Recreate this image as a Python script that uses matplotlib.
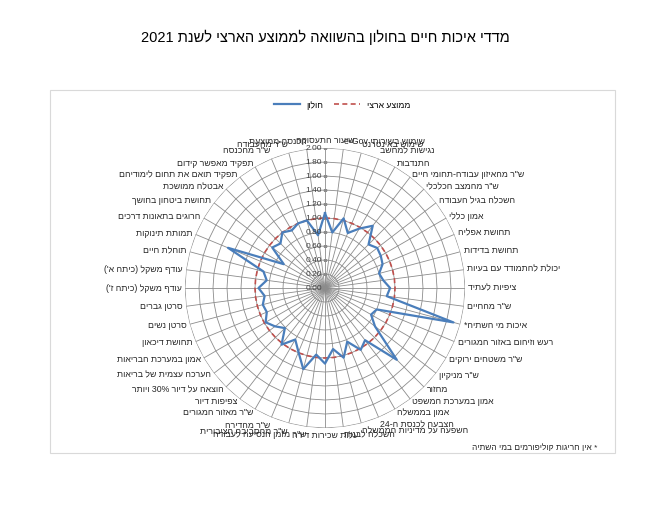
import re
import numpy as np
import matplotlib.pyplot as plt
import matplotlib.transforms as mtransforms
from matplotlib.patches import Rectangle

plt.rcParams['font.family'] = ['Liberation Sans', 'DejaVu Sans']

title = "מדדי איכות חיים בחולון בהשוואה לממוצע הארצי לשנת 2021"
footnote = "* אין חריגות קוליפורמים במי השתיה"

categories = [
    "שיעור התעסוקה", "שימוש בשירותי e-Gov", "שימוש באינטרנט", "נגישות למחשב",
    "התנדבות", 'ש"ר מהאיזון עבודה-תחומי חיים', 'ש"ר מהמצב הכלכלי', "השכלה בגיל העבודה",
    "אמון כללי", "תחושת אפליה", "תחושת בדידות", "יכולת להתמודד עם בעיות",
    "ציפיות לעתיד", 'ש"ר מהחיים', "איכות מי השתיה*", "רעש וזיהום באזור המגורים",
    'ש"ר משטחים ירוקים', 'ש"ר מניקיון', "מחזור", "אמון במערכת המשפט",
    "אמון בממשלה", "הצבעה לכנסת ה-24", "השפעה על מדיניות הממשלה", "השכלה לבנות",
    "עלות שכירות דירה", 'ש"ר מזמן הנסיעה לעבודה', 'ש"ר מהסביבה הציבורית', 'ש"ר מהדירה',
    'ש"ר מאזור המגורים', "צפיפות דיור", "הוצאה על דיור 30% ויותר", "הערכה עצמית של בריאות",
    "אמון במערכת הבריאות", "תחושת דיכאון", "סרטן נשים", "סרטן גברים",
    "עודף משקל (כיתה ז')", "עודף משקל (כיתה א')", "תוחלת חיים", "תמותת תינוקות",
    "הרוגים בתאונות דרכים", "תחושת ביטחון בחושך", "אבטלה ממושכת", "תפקיד תואם את תחום לימודיהם",
    "תפקיד מאפשר קידום", 'ש"ר מהכנסה', 'ש"ר מהעבודה', "הכנסה ממוצעת",
]

holon = [
    1.07, 0.80, 1.03, 0.85, 0.98, 1.12, 0.88, 0.94, 0.92, 0.89, 0.80, 0.84,
    0.93, 0.89, 1.90, 0.80, 0.76, 0.90, 1.45, 0.94, 1.02, 0.83, 1.03, 0.88,
    1.08, 0.96, 1.20, 0.99, 0.85, 1.02, 0.81, 0.90, 0.98, 0.90, 0.92, 0.87,
    0.95, 0.84, 0.91, 1.50, 0.68, 0.95, 0.90, 1.00, 0.95, 1.00, 1.00, 0.76,
]

national = [
    1.00, 1.00, 1.00, 1.00, 1.00, 1.00, 1.00, 1.00, 1.00, 1.00, 1.00, 1.00,
    1.00, 1.00, 1.00, 1.00, 1.00, 1.00, 1.00, 1.00, 1.00, 1.00, 1.00, 1.00,
    1.00, 1.00, 1.00, 1.00, 1.00, 1.00, 1.00, 1.00, 1.00, 1.00, 1.00, 1.00,
    1.00, 1.00, 1.00, 1.00, 1.00, 1.00, 1.00, 1.00, 1.00, 1.00, 1.00, 1.00,
]

rings = [0.0, 0.2, 0.4, 0.6, 0.8, 1.0, 1.2, 1.4, 1.6, 1.8, 2.0]


def rtl(s):
    # matplotlib has no bidi support: reverse, then restore left-to-right runs
    r = s[::-1]
    r = re.sub(r'[A-Za-z0-9%.]+(?:-[A-Za-z0-9%.]+)*', lambda m: m.group(0)[::-1], r)
    return r.translate(str.maketrans('()', ')('))


fig = plt.figure(figsize=(6.5, 5.11), dpi=100)
fig.patches.append(Rectangle((50 / 650, 1 - 453 / 511), 565 / 650, 363 / 511,
                             transform=fig.transFigure, fill=False,
                             edgecolor='#d9d9d9', lw=0.8))
fig.text(0.5, 1 - 37 / 511, rtl(title), ha='center', va='center', fontsize=10.5)

ax = fig.add_axes([185 / 650, 1 - 428 / 511, 280 / 650, 280 / 511], projection='polar')
ax.set_theta_zero_location('N')
ax.set_theta_direction(-1)
ax.set_ylim(0, 2)
ax.grid(False)
ax.spines['polar'].set_visible(False)
ax.set_xticks([])
ax.set_yticks([])

n = len(categories)
theta = np.linspace(0, 2 * np.pi, n, endpoint=False)
tc = np.append(theta, theta[0])
grid_color = '#8c8c8c'

for r in rings[1:]:
    ax.plot(tc, [r] * (n + 1), color=grid_color, lw=0.6, zorder=1)
for t in theta:
    ax.plot([t, t], [0, 2], color=grid_color, lw=0.6, zorder=1)

ax.plot(tc, national + national[:1], color='#c0504d', lw=1.2,
        ls=(0, (3, 2)), zorder=3, label=rtl("ממוצע ארצי"))
ax.plot(tc, holon + holon[:1], color='#4a7ebb', lw=1.6, zorder=4, label=rtl("חולון"))

# value axis labels on the top spoke
off = mtransforms.offset_copy(ax.transData, fig=fig, x=-2, y=0, units='points')
for r in rings:
    ax.text(0, r, f'{r:.2f}', transform=off, ha='right', va='center',
            fontsize=6, color='#404040', zorder=5)
ax.plot([0] * len(rings), rings, ls='none', marker='_', ms=3,
        color=grid_color, zorder=2)

for t, lab in zip(theta, categories):
    s, c = np.sin(t), np.cos(t)
    ha = 'left' if s > 0.05 else ('right' if s < -0.05 else 'center')
    va = 'bottom' if c > 0.9 else ('top' if c < -0.9 else 'center')
    ax.text(t, 2.05, rtl(lab), ha=ha, va=va, fontsize=6.3, color='#262626')

handles, labels = ax.get_legend_handles_labels()
fig.legend(handles[::-1], labels[::-1], loc='center', ncol=2, frameon=False,
           bbox_to_anchor=(342 / 650, 1 - 105 / 511), fontsize=6.2,
           handlelength=3, columnspacing=1.2)

fig.text(597 / 650, 1 - 448 / 511, rtl(footnote), ha='right', va='center',
         fontsize=6, color='#262626')

fig.savefig('out.png', dpi=100)
